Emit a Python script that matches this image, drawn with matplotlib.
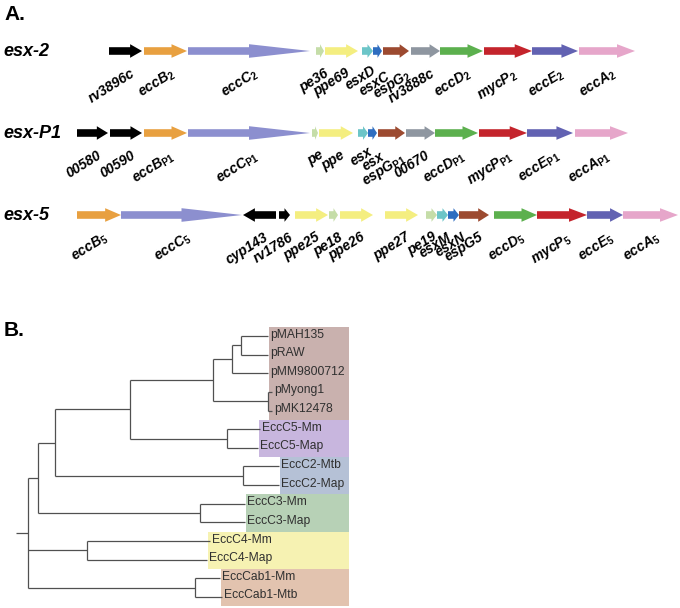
import matplotlib
matplotlib.use("Agg")
import matplotlib.pyplot as plt
from matplotlib.patches import Polygon, Rectangle

plt.rcParams['mathtext.fontset'] = 'custom'
plt.rcParams['mathtext.rm'] = 'Liberation Sans'
plt.rcParams['mathtext.it'] = 'Liberation Sans:italic'
plt.rcParams['mathtext.bf'] = 'Liberation Sans:bold'
plt.rcParams['mathtext.bfit'] = 'Liberation Sans:italic:bold'
plt.rcParams['font.family'] = ['Liberation Sans', 'DejaVu Sans']

# ---------------- Panel A data (gene coordinates, arbitrary units) ----------------
loci = ['esx-2', 'esx-P1', 'esx-5']

esx2_labels = ['rv3896c', 'eccB|2', 'eccC|2', 'pe36', 'ppe69', 'esxD', 'esxC', 'espG|2',
               'rv3888c', 'eccD|2', 'mycP|2', 'eccE|2', 'eccA|2']
esx2_start = [109, 144, 188, 316, 325, 362, 373, 383, 411, 440, 484, 532, 579]
esx2_end = [142, 187, 310, 324, 358, 373, 382, 409, 440, 483, 532, 578, 635]
esx2_family = ['other', 'eccB', 'eccC', 'pe', 'ppe', 'esxA', 'esxB', 'espG', 'misc',
               'eccD', 'mycP', 'eccE', 'eccA']
esx2_strand = [1] * 13

esxP1_labels = ['00580', '00590', 'eccB|P1', 'eccC|P1', 'pe', 'ppe', 'esx', 'esx', 'espG|P1',
                '00670', 'eccD|P1', 'mycP|P1', 'eccE|P1', 'eccA|P1']
esxP1_start = [77, 110, 144, 188, 312, 319, 358, 368, 378, 406, 435, 479, 527, 575]
esxP1_end = [108, 142, 187, 310, 318, 353, 368, 377, 405, 435, 478, 527, 573, 628]
esxP1_family = ['other', 'other', 'eccB', 'eccC', 'pe', 'ppe', 'esxA', 'esxB', 'espG',
                'misc', 'eccD', 'mycP', 'eccE', 'eccA']
esxP1_strand = [1] * 14

esx5_labels = ['eccB|5', 'eccC|5', 'cyp143', 'rv1786', 'ppe25', 'pe18', 'ppe26', 'ppe27',
               'pe19', 'esxM', 'esxN', 'espG5', 'eccD|5', 'mycP|5', 'eccE|5', 'eccA|5']
esx5_start = [77, 121, 243, 279, 295, 329, 340, 385, 426, 437, 448, 459, 494, 537, 587, 623]
esx5_end = [121, 242, 276, 290, 328, 338, 373, 418, 437, 448, 459, 489, 537, 587, 623, 678]
esx5_family = ['eccB', 'eccC', 'other', 'other', 'ppe', 'pe', 'ppe', 'ppe', 'pe', 'esxA',
               'esxB', 'espG', 'eccD', 'mycP', 'eccE', 'eccA']
esx5_strand = [1, 1, -1, 1, 1, 1, 1, 1, 1, 1, 1, 1, 1, 1, 1, 1]

family_colors = {
    'other': '#000000', 'eccB': '#E8A040', 'eccC': '#8C8FCF', 'pe': '#C5DDA8',
    'ppe': '#F4EE80', 'esxA': '#6CC5C8', 'esxB': '#2E6DC0', 'espG': '#9C4A30',
    'misc': '#8E96A0', 'eccD': '#5CB04E', 'mycP': '#C4242C', 'eccE': '#6262B2',
    'eccA': '#E6A6CA',
}

# small label nudges (layout only) for crowded labels: (row, index) -> (dx, dy)
label_nudge = {
    (0, 5): (-1, -3), (0, 6): (3, 3), (0, 7): (6, 0),
    (1, 6): (0, -4), (1, 7): (3, 1), (1, 8): (5, 2),
    (2, 8): (-4, -1), (2, 10): (3, 0),
}

# ---------------- Panel B data (tree: (children or name, branch length)) ----------------
tree = ([
    ([
        ([
            ([
                ([
                    ([
                        ([('pMAH135', 27), ('pRAW', 27)], 9),
                        ('pMM9800712', 36),
                    ], 19),
                    ([('pMyong1', 4), ('pMK12478', 4)], 55),
                ], 83),
                ([('EccC5-Mm', 33), ('EccC5-Map', 31)], 97),
            ], 75),
            ([('EccC2-Mtb', 36), ('EccC2-Map', 36)], 188),
        ], 17),
        ([('EccC3-Mm', 45), ('EccC3-Map', 45)], 162),
    ], 10),
    ([('EccC4-Mm', 123), ('EccC4-Map', 120)], 59),
    ([('EccCab1-Mm', 25), ('EccCab1-Mtb', 27)], 167),
], 12)

clade_first = ['pMAH135', 'EccC5-Mm', 'EccC2-Mtb', 'EccC3-Mm', 'EccC4-Mm', 'EccCab1-Mm']
clade_last = ['pMK12478', 'EccC5-Map', 'EccC2-Map', 'EccC3-Map', 'EccC4-Map', 'EccCab1-Mtb']
clade_colors = ['#C9B1AE', '#C8B6DE', '#B5C1D6', '#B7D1B6', '#F6F2B2', '#E2C3AF']

# ---------------- Figure ----------------
W, H = 680, 608
fig = plt.figure(figsize=(W / 100, H / 100), dpi=100)
fig.patch.set_facecolor('white')

ax_a = fig.add_axes([0, 1 - 300 / H, 1, 300 / H])
ax_a.set_xlim(0, W)
ax_a.set_ylim(300, 0)
ax_a.axis('off')

row_y = [51, 133, 215]
rows = [
    (esx2_labels, esx2_start, esx2_end, esx2_family, esx2_strand),
    (esxP1_labels, esxP1_start, esxP1_end, esxP1_family, esxP1_strand),
    (esx5_labels, esx5_start, esx5_end, esx5_family, esx5_strand),
]


def arrow_poly(s, e, y, fam, strand):
    L = e - s
    if fam == 'eccC':
        head = 0.5 * L
    elif L >= 15:
        head = min(18, 0.36 * L)
    else:
        head = 0.5 * L
    bh, hh = 3.8, 6.8
    if strand > 0:
        b = e - head
        pts = [(s, y - bh), (b, y - bh), (b, y - hh), (e, y), (b, y + hh), (b, y + bh), (s, y + bh)]
    else:
        b = s + head
        pts = [(e, y - bh), (b, y - bh), (b, y - hh), (s, y), (b, y + hh), (b, y + bh), (e, y + bh)]
    return pts


def fmt_label(lab):
    if '|' in lab:
        base, sub = lab.split('|')
        return r'$\mathbfit{' + base + r'}_{\mathbf{' + sub + r'}}$'
    return lab


for r, ((labels, starts, ends, fams, strands), y, name) in enumerate(zip(rows, row_y, loci)):
    ax_a.text(3, y, name, fontsize=13, fontweight='bold', fontstyle='italic',
              ha='left', va='center')
    for i, (lab, s, e, f, st) in enumerate(zip(labels, starts, ends, fams, strands)):
        ax_a.add_patch(Polygon(arrow_poly(s, e, y, f, st), closed=True,
                               facecolor=family_colors[f], edgecolor='none'))
        dx, dy = label_nudge.get((r, i), (0, 0))
        cx = (s + e) / 2 + 4 + dx
        ax_a.text(cx, y + 15 + dy, fmt_label(lab), fontsize=10, fontweight='bold',
                  fontstyle='italic', rotation=32, rotation_mode='anchor',
                  ha='right', va='top')

ax_a.text(4, 15, 'A.', fontsize=15, fontweight='bold', ha='left', va='center')

# ---------------- Panel B ----------------
step = 18.64
ax_b = fig.add_axes([0, 0, 1, 308 / H])
ax_b.set_xlim(-16, W - 16)
ax_b.set_ylim((308 - 36) / step, -36 / step)
ax_b.axis('off')

leaves = []
hsegs = []
vsegs = []


def layout(node, x0):
    content, length = node
    x = x0 + length
    if isinstance(content, str):
        y = len(leaves)
        leaves.append((content, x, y))
        hsegs.append((x0, x, y))
        return y
    ys = [layout(c, x) for c in content]
    y = (min(ys) + max(ys)) / 2
    hsegs.append((x0, x, y))
    vsegs.append((x, min(ys), max(ys)))
    return y


layout(tree, 0)
leaf_index = {n: (x, y) for n, x, y in leaves}

box_right = 333
for f, l, c in zip(clade_first, clade_last, clade_colors):
    i0 = leaf_index[f][1]
    i1 = leaf_index[l][1]
    xmin = min(x for n, x, y in leaves if i0 <= y <= i1)
    ax_b.add_patch(Rectangle((xmin + 1, i0 - 0.5), box_right - xmin - 1, i1 - i0 + 1,
                             facecolor=c, edgecolor='none', zorder=0))

lc = '#505050'
for x0, x1, y in hsegs:
    ax_b.plot([x0, x1], [y, y], color=lc, lw=0.9, solid_capstyle='butt', zorder=2)
for x, y0, y1 in vsegs:
    ax_b.plot([x, x], [y0, y1], color=lc, lw=0.9, solid_capstyle='butt', zorder=2)

for n, x, y in leaves:
    ax_b.text(x + 2, y - 0.08, n, fontsize=8.7, color='#303030', ha='left', va='center', zorder=3)

fig.text(4 / W, 1 - 330 / H, 'B.', fontsize=15, fontweight='bold', ha='left', va='center')

fig.savefig('out.png', dpi=100, facecolor='white')
